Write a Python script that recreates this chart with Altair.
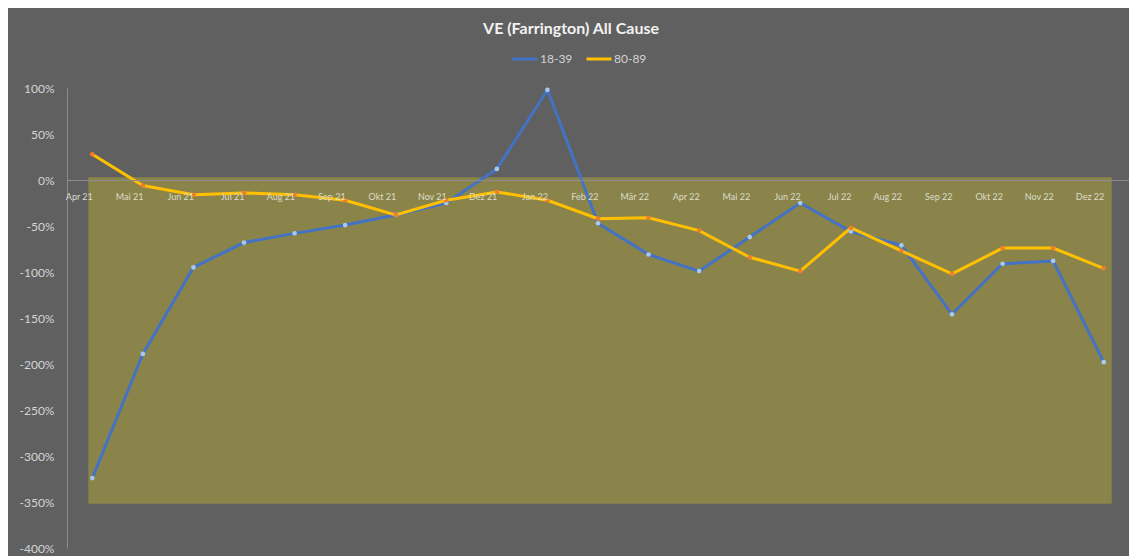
import altair as alt
import pandas as pd

months = ["Apr 21", "Mai 21", "Jun 21", "Jul 21", "Aug 21", "Sep 21", "Okt 21",
          "Nov 21", "Dez 21", "Jan 22", "Feb 22", "Mär 22", "Apr 22", "Mai 22",
          "Jun 22", "Jul 22", "Aug 22", "Sep 22", "Okt 22", "Nov 22", "Dez 22"]
ve_18_39 = [-324, -189, -95, -68, -58, -49, -38, -25, 12, 98, -47, -81, -99, -62,
            -25, -56, -71, -146, -91, -88, -198]
ve_80_89 = [28, -6, -16, -14, -16, -22, -38, -22, -13, -22, -42, -41, -55, -84,
            -99, -52, -77, -102, -74, -74, -96]
series = ["18-39", "80-89"]
y_ticks = [100, 50, 0, -50, -100, -150, -200, -250, -300, -350, -400]
band = {"x": "Apr 21", "x2": "Dez 22", "y": 3, "y2": -352}

rows = []
for name, vals in zip(series, [ve_18_39, ve_80_89]):
    for m, v in zip(months, vals):
        rows.append({"Monat": m, "VE": v, "Gruppe": name})
df = pd.DataFrame(rows)
band_df = pd.DataFrame([band])

FONT = "Lato"
xscale = alt.Scale(type="point", domain=months, padding=0.5)
yscale = alt.Scale(domain=[-400, 100], nice=False, zero=False)

rect = alt.Chart(band_df).mark_rect(color="#8a844a", xOffset=-4, x2Offset=8).encode(
    x=alt.X("x:N", scale=xscale, sort=months),
    x2="x2:N",
    y=alt.Y("y:Q", scale=yscale),
    y2="y2:Q",
)

lines = alt.Chart(df).mark_line(strokeWidth=3).encode(
    x=alt.X("Monat:N", scale=xscale, sort=months,
            axis=alt.Axis(title=None, labelAngle=0, labelFont=FONT, labelFontSize=9,
                          labelColor="#dcdccc", domainColor="#8c8c8c", domainWidth=1,
                          ticks=False, labelPadding=16, offset=-368)),
    y=alt.Y("VE:Q", scale=yscale,
            axis=alt.Axis(title=None, values=y_ticks, format="d",
                          labelExpr="datum.value + '%'", labelFont=FONT, labelFontSize=12,
                          labelColor="#d4d4d4", domainColor="#8c8c8c", ticks=False,
                          grid=False, labelPadding=13)),
    color=alt.Color("Gruppe:N",
                    scale=alt.Scale(domain=series, range=["#4472c4", "#ffc000"]),
                    legend=alt.Legend(title=None, orient="none", direction="horizontal",
                                      legendX=444, legendY=-43,
                                      symbolType="M-1,0H1", symbolSize=625,
                                      symbolStrokeWidth=3, labelFont=FONT,
                                      labelFontSize=12, labelColor="#d4d4d4",
                                      columnPadding=7, labelOffset=1, padding=0)),
    order=alt.Order("Gruppe:N"),
)

points = alt.Chart(df).mark_point(filled=True, size=22, strokeWidth=1, opacity=1).encode(
    x=alt.X("Monat:N", scale=xscale, sort=months),
    y=alt.Y("VE:Q", scale=yscale),
    fill=alt.Fill("Gruppe:N",
                  scale=alt.Scale(domain=series, range=["#a9c8ee", "#ed7d31"]),
                  legend=None),
)

chart = alt.layer(rect, lines, points).properties(
    width=1062,
    height=460,
    title=alt.TitleParams("VE (Farrington) All Cause", font=FONT, fontSize=16,
                          fontWeight="bold", color="#f2f2f2", anchor="middle",
                          offset=8, dx=-27),
    background="#606060",
    padding={"left": 59, "top": 80, "right": 0, "bottom": 8},
    autosize=alt.AutoSizeParams(type="none"),
).configure_view(stroke=None)

chart.save("out.html", embed_options={"renderer": "svg", "actions": False})
